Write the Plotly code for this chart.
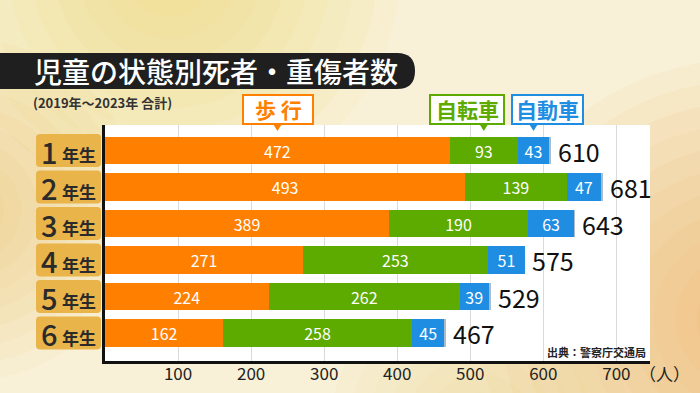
import plotly.graph_objects as go

# ---------------- data ----------------
grades = ["1年生", "2年生", "3年生", "4年生", "5年生", "6年生"]
grade_nums = ["1", "2", "3", "4", "5", "6"]
walking = [472, 493, 389, 271, 224, 162]
bicycle = [93, 139, 190, 253, 262, 258]
car = [43, 47, 63, 51, 39, 45]
other = [2, 2, 1, 0, 4, 2]
totals = [610, 681, 643, 575, 529, 467]
tick_vals = [100, 200, 300, 400, 500, 600, 700]

series_names = ["歩 行", "自転車", "自動車"]
C_ORANGE = "#FF7F00"
C_GREEN = "#5DAA00"
C_BLUE = "#1F8EE2"
C_OTHER = "#A9BBCD"
FONT = "Noto Sans CJK JP"

W, H = 700, 393
# plot area in pixels
PX0, PX1 = 105, 650
PY0, PY1 = 125, 361
XMAX = 746
YR_TOP, YR_BOT = -0.699, 5.767


def fx(px):
    return px / W


def fy(py):
    return 1 - py / H


def row_py(i):
    return PY0 + (i - YR_TOP) / (YR_BOT - YR_TOP) * (PY1 - PY0)


def val_px(v):
    return PX0 + v / XMAX * (PX1 - PX0)


def rrect(x0, y0, x1, y1, r):
    p = []
    p.append(f"M {fx(x0 + r)},{fy(y0)}")
    p.append(f"L {fx(x1 - r)},{fy(y0)}")
    p.append(f"Q {fx(x1)},{fy(y0)} {fx(x1)},{fy(y0 + r)}")
    p.append(f"L {fx(x1)},{fy(y1 - r)}")
    p.append(f"Q {fx(x1)},{fy(y1)} {fx(x1 - r)},{fy(y1)}")
    p.append(f"L {fx(x0 + r)},{fy(y1)}")
    p.append(f"Q {fx(x0)},{fy(y1)} {fx(x0)},{fy(y1 - r)}")
    p.append(f"L {fx(x0)},{fy(y0 + r)}")
    p.append(f"Q {fx(x0)},{fy(y0)} {fx(x0 + r)},{fy(y0)}")
    p.append("Z")
    return " ".join(p)


fig = go.Figure()

bar_common = dict(orientation="h", y=grades, width=0.75,
                  textposition="inside", insidetextanchor="middle",
                  textangle=0, constraintext="none",
                  textfont=dict(color="white", size=16, family=FONT),
                  marker_line_width=0)
fig.add_trace(go.Bar(x=walking, name=series_names[0], marker_color=C_ORANGE,
                     text=walking, **bar_common))
fig.add_trace(go.Bar(x=bicycle, name=series_names[1], marker_color=C_GREEN,
                     text=bicycle, **bar_common))
fig.add_trace(go.Bar(x=car, name=series_names[2], marker_color=C_BLUE,
                     text=car, **bar_common))
fig.add_trace(go.Bar(x=other, name="その他", marker_color=C_OTHER,
                     orientation="h", y=grades, width=0.75, marker_line_width=0))

shapes = []
annotations = []


def glow(cx, cy, r, color, steps=10, op=0.07):
    for k in range(steps):
        rr = r * (1 - k / steps)
        shapes.append(dict(type="circle", xref="paper", yref="paper", layer="below",
                           x0=fx(cx - rr), x1=fx(cx + rr), y0=fy(cy - rr), y1=fy(cy + rr),
                           fillcolor=color, opacity=op, line_width=0))


# ---- soft background glows ----
glow(170, -30, 230, "#F7D468", steps=10, op=0.07)
glow(-30, 210, 170, "#F2BE58", steps=10, op=0.06)
glow(740, 320, 260, "#EEA652", steps=12, op=0.07)
glow(480, 430, 150, "#F5D27A", steps=8, op=0.06)

# white panel
shapes.append(dict(type="rect", xref="paper", yref="paper", layer="below",
                   x0=fx(PX0), x1=fx(PX1), y0=fy(PY0), y1=fy(PY1),
                   fillcolor="white", line_width=0))

# ---- title bar ----
shapes.append(dict(type="path", xref="paper", yref="paper", layer="below",
                   path=rrect(-30, 53, 415, 89, 18),
                   fillcolor="#1F1F1F", line_width=0))
annotations.append(dict(text="児童の状態別死者・重傷者数", xref="paper", yref="paper",
                        x=fx(32), y=fy(71), xanchor="left", yanchor="middle",
                        showarrow=False,
                        font=dict(size=28, color="white", family=FONT, weight=500)))
annotations.append(dict(text="(2019年～2023年 合計)", xref="paper", yref="paper",
                        x=fx(31), y=fy(102), xanchor="left", yanchor="middle",
                        showarrow=False,
                        font=dict(size=13, color="#333333", family=FONT, weight="bold")))

# ---- legend callouts ----
cum_mid = [walking[0] / 2,
           walking[0] + bicycle[0] / 2,
           walking[0] + bicycle[0] + car[0] / 2]
boxes = [(243, 313), (430, 504), (512, 583)]
cols = [C_ORANGE, C_GREEN, C_BLUE]
for name, (bx0, bx1), col, mid in zip(series_names, boxes, cols, cum_mid):
    px = val_px(mid)
    shapes.append(dict(type="path", xref="paper", yref="paper", layer="above",
                       path=(f"M {fx(px - 5)},{fy(123)} L {fx(px + 5)},{fy(123)} "
                             f"L {fx(px)},{fy(131)} Z"),
                       fillcolor=col, line_width=0))
    shapes.append(dict(type="rect", xref="paper", yref="paper", layer="above",
                       x0=fx(bx0), x1=fx(bx1), y0=fy(95), y1=fy(124),
                       fillcolor="white", line=dict(color=col, width=2)))
    annotations.append(dict(text=name, xref="paper", yref="paper",
                            x=fx((bx0 + bx1) / 2), y=fy(109.5),
                            xanchor="center", yanchor="middle", showarrow=False,
                            font=dict(size=21, color=col, family=FONT, weight="bold")))

# ---- grade labels ----
for i, (g, n) in enumerate(zip(grades, grade_nums)):
    cy = row_py(i)
    shapes.append(dict(type="path", xref="paper", yref="paper", layer="below",
                       path=rrect(36, cy - 16.5, 101, cy + 16.5, 4),
                       fillcolor="#E9B44A", line_width=0))
    annotations.append(dict(
        text=n, xref="paper", yref="paper", x=fx(59), y=fy(cy),
        xanchor="right", yanchor="middle", showarrow=False, borderpad=0,
        height=30, valign="middle",
        font=dict(size=29, color="#2A2A2A", family=FONT, weight=500)))
    annotations.append(dict(
        text="年生", xref="paper", yref="paper", x=fx(61), y=fy(cy + 4),
        xanchor="left", yanchor="middle", showarrow=False, borderpad=0,
        font=dict(size=17, color="#2A2A2A", family=FONT, weight="bold")))

# ---- totals ----
for g, t in zip(grades, totals):
    annotations.append(dict(text=str(t), x=t, y=g, xref="x", yref="y",
                            xanchor="left", yanchor="middle", xshift=5,
                            showarrow=False,
                            font=dict(size=25, color="#111111", family=FONT)))

# ---- source and unit ----
annotations.append(dict(text="出典：警察庁交通局", xref="paper", yref="paper",
                        x=fx(648), y=fy(352), xanchor="right", yanchor="middle",
                        showarrow=False,
                        font=dict(size=11, color="#222222", family=FONT, weight="bold")))
annotations.append(dict(text="（人）", xref="paper", yref="paper",
                        x=fx(664), y=fy(373), xanchor="center", yanchor="middle",
                        showarrow=False,
                        font=dict(size=17, color="#222222", family=FONT)))

fig.update_layout(
    width=W, height=H,
    margin=dict(l=0, r=0, t=0, b=0),
    paper_bgcolor="#F8F1D8",
    plot_bgcolor="rgba(0,0,0,0)",
    barmode="stack",
    bargap=0.25,
    showlegend=False,
    shapes=shapes,
    annotations=annotations,
    xaxis=dict(domain=[fx(PX0), fx(PX1)], range=[0, XMAX],
               tickvals=tick_vals, showgrid=True, gridcolor="#DADADA", gridwidth=1,
               showline=True, linecolor="#111111", linewidth=3,
               zeroline=False, ticks="", ticklabelstandoff=-4,
               tickfont=dict(size=17, color="#222222", family=FONT)),
    yaxis=dict(domain=[fy(PY1), fy(PY0)], range=[YR_BOT, YR_TOP],
               type="category", categoryorder="array", categoryarray=grades,
               showticklabels=False, showgrid=False,
               showline=True, linecolor="#111111", linewidth=3, ticks=""),
    font=dict(family=FONT),
)

fig.write_html(
    "out.html",
    config={"displayModeBar": False},
    post_script="document.body.style.margin='0';document.body.style.overflow='hidden';",
)
